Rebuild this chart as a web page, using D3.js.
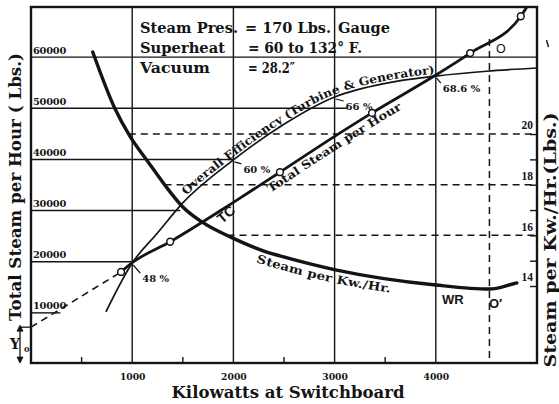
<!DOCTYPE html>
<html>
<head>
<meta charset="utf-8">
<script src="https://cdn.jsdelivr.net/npm/d3@7"></script>
<style>
  html, body { margin: 0; padding: 0; background: #fff; }
  svg { display: block; }
</style>
</head>
<body>
<svg id="chart" width="559" height="404"></svg>
<script>
// Turbo-generator test: total steam, steam per kw-hr and overall efficiency vs load

// axes
const kwTicks = [1000, 2000, 3000, 4000];
const kwMinorTicks = [500, 1500, 2500, 3500];
const lbsTicks = [10000, 20000, 30000, 40000, 50000, 60000];
const lbsRuleEndsKw = [290, 1000, 1475, 2000, 3120, 5000];   // kW where each horizontal rule stops
const rateTicks = [14, 15, 16, 17, 18, 19, 20];
const rateLabels = [14, 16, 18, 20];
const rateDashed = [20, 18, 16];

// total steam per hour (Willans line)
const willansDashKw = [0, 890];
const willansDashLbs = [7200, 18000];
const willansKw = [890, 1000, 1375, 2000, 2460, 3000, 3370, 4000, 4340, 4840, 4900];
const willansLbs = [18000, 19800, 23900, 31600, 37500, 44500, 49100, 56500, 60800, 68000, 69800];
const testKw = [890, 1375, 2460, 3370, 4340, 4840];
const testLbs = [18000, 23900, 37500, 49100, 60800, 68000];

// steam per kw-hr
const rateKw = [610, 830, 980, 1150, 1320, 1500, 1700, 1990, 2330, 2460, 3020, 4000, 4530, 4760, 4800];
const rateVal = [23.24, 21.0, 19.9, 18.94, 18.0, 17.12, 16.5, 15.9, 15.34, 15.19, 14.63, 14.04, 13.88, 14.08, 14.12];

// overall efficiency (turbine & generator), per cent
const effKw = [740, 1000, 1250, 1500, 2000, 2500, 3000, 3500, 4000, 4500, 5000];
const effPct = [42.3, 48, 51.5, 55.0, 60, 63.4, 66, 67.7, 68.6, 69.2, 69.6];
const effMarkKw = [1000, 2000, 3000, 4000];
const effMarkPct = [48, 60, 66, 68.6];

const pointO = 4530;   // load at minimum steam rate

(function draw() {
const svg = d3.select("#chart");
const pl = 31, pr = 537, pt = 7, pb = 363;
const ink = "#141414";
const serif = "'DejaVu Serif', 'Liberation Serif', serif";
const sans = "'Liberation Sans', Arial, sans-serif";

const x = d3.scaleLinear().domain([0, 5000]).range([pl, pr]);
const yL = d3.scaleLinear().domain([0, 70000]).range([364, 6]);
const yR = d3.scaleLinear().domain([11, 25]).range([362, 7.4]);
// efficiency is drawn against the steam grid with its own (uneven) graduation
const effToLbs = d3.scaleLinear().domain([48, 60, 66, 68.6]).range([19750, 39900, 52200, 56300]);
const yE = v => yL(effToLbs(v));

svg.append("rect").attr("width", 559).attr("height", 404).attr("fill", "#fff");

function interp(xs, ys, v) {
  for (let i = 0; i < xs.length - 1; i++) {
    if ((xs[i] - v) * (xs[i + 1] - v) <= 0) {
      return ys[i] + (v - xs[i]) / (xs[i + 1] - xs[i]) * (ys[i + 1] - ys[i]);
    }
  }
  return ys[ys.length - 1];
}

function lengthAtX(node, tx) {
  let lo = 0, hi = node.getTotalLength();
  for (let k = 0; k < 40; k++) {
    const mid = (lo + hi) / 2;
    if (node.getPointAtLength(mid).x < tx) lo = mid; else hi = mid;
  }
  return lo;
}

const grid = svg.append("g");

// vertical rules
grid.selectAll("line.v").data(kwTicks).join("line")
  .attr("x1", d => x(d)).attr("x2", d => x(d))
  .attr("y1", pt).attr("y2", pb)
  .attr("stroke", ink).attr("stroke-width", 1.4);

// horizontal rules of the steam scale
grid.selectAll("line.h").data(lbsTicks).join("line")
  .attr("x1", pl).attr("x2", (d, i) => x(lbsRuleEndsKw[i]))
  .attr("y1", d => yL(d)).attr("y2", d => yL(d))
  .attr("stroke", ink).attr("stroke-width", 1.4);

// dashed rules of the steam-rate scale, starting at the curve
grid.selectAll("line.d").data(rateDashed).join("line")
  .attr("x1", d => x(interp(rateVal.slice(0, 11), rateKw.slice(0, 11), d)))
  .attr("x2", pr)
  .attr("y1", d => yR(d)).attr("y2", d => yR(d))
  .attr("stroke", ink).attr("stroke-width", 1.5).attr("stroke-dasharray", "7,5");

// vertical dashed projection of point O
const lbsAtO = interp(willansKw, willansLbs, pointO);
grid.append("line")
  .attr("x1", x(pointO)).attr("x2", x(pointO))
  .attr("y1", yL(lbsAtO)).attr("y2", pb)
  .attr("stroke", ink).attr("stroke-width", 1.5).attr("stroke-dasharray", "7,5");

// minor ticks on the kilowatt scale
grid.selectAll("line.m").data(kwMinorTicks).join("line")
  .attr("x1", d => x(d)).attr("x2", d => x(d))
  .attr("y1", pb).attr("y2", pb - 6)
  .attr("stroke", ink).attr("stroke-width", 1.4);

// right-hand steam-rate scale
const rAxis = svg.append("g").attr("transform", `translate(${pr},0)`)
  .call(d3.axisLeft(yR).tickValues(rateTicks).tickSize(7).tickSizeOuter(0)
    .tickFormat(d => rateLabels.includes(d) ? d : ""));
rAxis.select(".domain").remove();
rAxis.selectAll("line").attr("stroke", ink).attr("stroke-width", 1.4);
rAxis.selectAll("text").attr("x", -4).attr("dy", "-0.45em")
  .attr("font-family", "'Liberation Serif', serif").attr("font-weight", "bold")
  .attr("font-size", 11.5).attr("fill", ink);

// left-hand steam scale labels
const lAxis = svg.append("g").attr("transform", `translate(${pl},0)`)
  .call(d3.axisRight(yL).tickValues(lbsTicks).tickSize(0).tickFormat(d3.format("d")));
lAxis.select(".domain").remove();
lAxis.selectAll("text").attr("x", 2).attr("dy", -4)
  .attr("font-family", serif).attr("font-weight", "bold")
  .attr("font-size", 9.8).attr("fill", ink).attr("letter-spacing", -0.2);

// kilowatt labels
const bAxis = svg.append("g").attr("transform", `translate(0,${pb})`)
  .call(d3.axisBottom(x).tickValues(kwTicks).tickSize(0).tickFormat(d3.format("d")));
bAxis.select(".domain").remove();
bAxis.selectAll("text").attr("dy", 14)
  .attr("font-family", serif).attr("font-weight", "bold")
  .attr("font-size", 9.2).attr("fill", ink);

// frame
svg.append("rect")
  .attr("x", pl).attr("y", pt).attr("width", pr - pl).attr("height", pb - pt)
  .attr("fill", "none").attr("stroke", ink).attr("stroke-width", 2.4);

const curves = svg.append("g").attr("fill", "none").attr("stroke", ink);

// overall efficiency
const effLine = d3.line().x((d, i) => x(effKw[i])).y(d => yE(d)).curve(d3.curveMonotoneX);
const effPath = curves.append("path").attr("id", "effCurve")
  .attr("d", effLine(effPct)).attr("stroke-width", 1.7);

// steam per kw-hr
const rateLine = d3.line().x((d, i) => x(rateKw[i])).y(d => yR(d)).curve(d3.curveMonotoneX);
const ratePath = curves.append("path").attr("id", "rateCurve")
  .attr("d", rateLine(rateVal)).attr("stroke-width", 3.4).attr("stroke-linecap", "round");

// total steam per hour
const dashLine = d3.line().x((d, i) => x(willansDashKw[i])).y(d => yL(d));
curves.append("path").attr("d", dashLine(willansDashLbs))
  .attr("stroke-width", 1.6).attr("stroke-dasharray", "7,5");
const wLine = d3.line().x((d, i) => x(willansKw[i])).y(d => yL(d)).curve(d3.curveMonotoneX);
const wPath = curves.append("path").attr("id", "willansCurve")
  .attr("d", wLine(willansLbs)).attr("stroke-width", 2.8);

// test points
svg.append("g").selectAll("circle").data(testLbs).join("circle")
  .attr("cx", (d, i) => x(testKw[i])).attr("cy", d => yL(d)).attr("r", 3.4)
  .attr("fill", "#fff").attr("stroke", ink).attr("stroke-width", 1.5);

// efficiency call-outs
const effOffsets = [[10, 19], [10, 13], [11, 13], [7, 16]];
const marks = svg.append("g");
effMarkPct.forEach((p, i) => {
  const px = x(effMarkKw[i]), py = yE(p);
  const [dx, dy] = effOffsets[i];
  marks.append("line").attr("x1", px + 1).attr("y1", py + 2).attr("x2", px + dx - 2).attr("y2", py + dy - 9)
    .attr("stroke", ink).attr("stroke-width", 1.2);
  marks.append("text").attr("x", px + dx).attr("y", py + dy)
    .attr("font-family", serif).attr("font-weight", "bold").attr("font-size", 10)
    .attr("fill", ink).text(`${p} %`);
});

// curve names set along the curves
function pathLabel(node, id, str, x0, x1, dy, size) {
  const s = lengthAtX(node, x0), e = lengthAtX(node, x1);
  svg.append("text").attr("dy", dy)
    .attr("font-family", serif).attr("font-weight", "bold").attr("font-size", size).attr("fill", ink)
    .append("textPath").attr("href", "#" + id).attr("startOffset", s)
    .attr("textLength", e - s).attr("lengthAdjust", "spacingAndGlyphs")
    .text(str);
}
pathLabel(effPath.node(), "effCurve", "Overall Efficiency (Turbine & Generator)", 188, 435, -2.5, 11.5);
pathLabel(wPath.node(), "willansCurve", "Total Steam per Hour", 264, 396, 12, 11.5);
pathLabel(ratePath.node(), "rateCurve", "Steam per Kw./Hr.", 260, 392, 13, 11.5);

// letters on the diagram
const letters = svg.append("g").attr("font-family", sans).attr("font-weight", "bold").attr("fill", ink);
letters.append("text").attr("transform", "translate(222,224) rotate(-40)").attr("font-size", 14).text("TC");
letters.append("text").attr("x", 442).attr("y", 304).attr("font-size", 13).text("WR");
letters.append("text").attr("x", 489).attr("y", 308).attr("font-size", 13).text("O′");
letters.append("text").attr("x", 496).attr("y", 53).attr("font-size", 12.5).attr("font-weight", "normal").text("O");

// Y0 intercept dimension
const y0 = yL(willansDashLbs[0]);
const dim = svg.append("g").attr("stroke", ink).attr("stroke-width", 1.3).attr("fill", ink);
dim.append("line").attr("x1", 20).attr("x2", pl).attr("y1", y0).attr("y2", y0);
dim.append("line").attr("x1", 20).attr("x2", 20).attr("y1", y0).attr("y2", pb - 1);
dim.append("path").attr("d", `M20,${y0 - 2} l-3,6 h6 Z`).attr("stroke-width", 0.8);
dim.append("path").attr("d", `M20,${pb} l-3,-6 h6 Z`).attr("stroke-width", 0.8);
svg.append("text").attr("x", 10).attr("y", 349).attr("font-family", serif).attr("font-weight", "bold")
  .attr("font-size", 14).attr("fill", ink).text("Y");
svg.append("text").attr("x", 24).attr("y", 352).attr("font-family", serif).attr("font-weight", "bold")
  .attr("font-size", 8).attr("fill", ink).text("0");

// test conditions
const cond = svg.append("g").attr("font-family", serif).attr("font-weight", "bold")
  .attr("font-size", 15.5).attr("fill", ink);
const condCells = [
  ["Steam Pres.", 140, 33, 98], ["= 170 Lbs.", 245, 33, 86], ["Gauge", 338, 33, 52],
  ["Superheat", 140, 53, 85], ["= 60 to 132° F.", 248, 53, 114],
  ["Vacuum", 140, 73, 70], ["= 28.2″", 248, 73, 47]
];
condCells.forEach(([t, cx, cy, w]) => {
  cond.append("text").attr("x", cx).attr("y", cy)
    .attr("textLength", w).attr("lengthAdjust", "spacingAndGlyphs").text(t);
});

// axis titles
const titles = svg.append("g").attr("font-family", serif).attr("font-weight", "bold").attr("fill", ink);
titles.append("text").attr("x", 288).attr("y", 398).attr("text-anchor", "middle")
  .attr("font-size", 17.5).attr("textLength", 233).attr("lengthAdjust", "spacingAndGlyphs")
  .text("Kilowatts at Switchboard");
titles.append("text").attr("transform", "translate(21,187) rotate(-90)").attr("text-anchor", "middle")
  .attr("font-size", 17).attr("textLength", 268).attr("lengthAdjust", "spacingAndGlyphs")
  .text("Total Steam per Hour ( Lbs.)");
titles.append("text").attr("transform", "translate(556,240) rotate(-90)").attr("text-anchor", "middle")
  .attr("font-size", 16.5).attr("textLength", 255).attr("lengthAdjust", "spacingAndGlyphs")
  .text("Steam per Kw./Hr.(Lbs.)");

// stray mark at the top right of the sheet
svg.append("path").attr("d", "M546.5,40 L548.5,47").attr("stroke", ink).attr("stroke-width", 1.4);
})();
</script>
</body>
</html>
